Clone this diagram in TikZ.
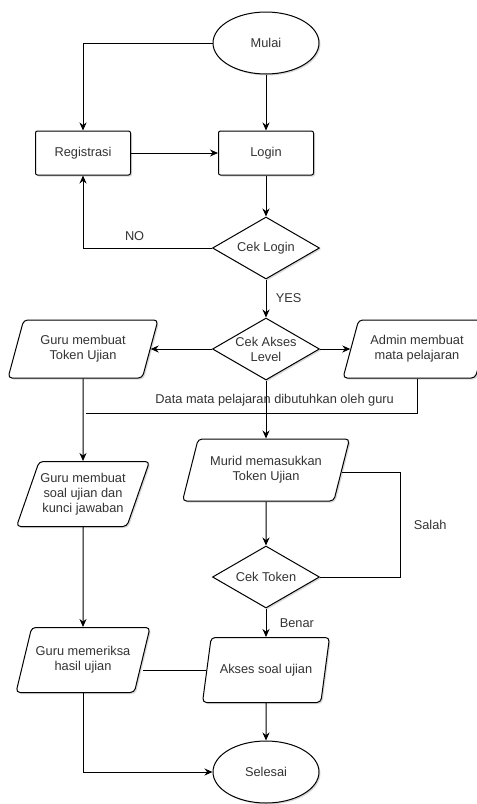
\documentclass[tikz,border=0pt]{standalone}
\usepackage{fontspec}
\setmainfont{Liberation Sans}
\usetikzlibrary{shapes.geometric, arrows.meta, shadows}

\begin{document}
\begin{tikzpicture}[x=1pt, y=-1pt, >={Stealth[length=8pt, width=7pt]}, line width=1pt,
    font=\fontsize{12.8}{15}\selectfont,
    base/.style={draw, fill=white, text=black!80, align=center,
        drop shadow={shadow xshift=1.5pt, shadow yshift=-1.5pt, opacity=0.3}},
    terminal/.style={base, ellipse, minimum width=106, minimum height=62},
    process/.style={base, rectangle, rounded corners=2pt, minimum width=95, minimum height=44},
    decision/.style={base, diamond, aspect=1.7, inner sep=0pt, minimum width=107, minimum height=62},
    io/.style={base, trapezium, trapezium left angle=65, trapezium right angle=115,
        trapezium stretches body, rounded corners=4pt, inner xsep=0pt},
    lbl/.style={text=black!80}]
    \useasboundingbox (0,0) rectangle (477,804);
    % nodes
    \node[terminal] (mulai) at (266,43) {Mulai};
    \node[process] (reg) at (83,153) {Registrasi};
    \node[process] (login) at (266,153) {Login};
    \node[decision] (ceklogin) at (266,248) {Cek Login};
    \node[decision] (cekakses) at (266,349) {Cek Akses\\Level};
    \node[io, minimum width=150, minimum height=58] (gurutoken) at (83,349) {Guru membuat\\Token Ujian};
    \node[io, minimum width=148, minimum height=58] (admin) at (417,349) {Admin membuat\\mata pelajaran};
    \node[io, minimum width=167, minimum height=62] (murid) at (266,470) {Murid memasukkan\\Token Ujian};
    \node[io, minimum width=133, minimum height=65] (gurusoal) at (83,494) {Guru membuat\\soal ujian dan\\kunci jawaban};
    \node[decision] (cektoken) at (266,577) {Cek Token};
    \node[io, minimum width=127, minimum height=65] (akses) at (266,670) {Akses soal ujian};
    \node[io, minimum width=134, minimum height=65] (guruperiksa) at (83,660) {Guru memeriksa\\hasil ujian};
    \node[terminal] (selesai) at (266,772) {Selesai};
    \coordinate (gabung) at (86,413);
    \coordinate (salah) at (400,472);
    % connectors
    \draw[->] (mulai.west) -| (reg.north);
    \draw[->] (mulai) -- (login);
    \draw[->] (reg) -- (login);
    \draw[->] (login) -- (ceklogin);
    \draw[->] (ceklogin.west) -| node[lbl, pos=0.3, above=4pt] {NO} (reg.south);
    \draw[->] (ceklogin) -- node[lbl, right=6pt] {YES} (cekakses);
    \draw[->] (cekakses) -- (gurutoken);
    \draw[->] (cekakses) -- (admin);
    \draw[->] (cekakses) -- (murid);
    \draw (admin.south) |- node[lbl, pos=0.715, above=3pt] {Data mata pelajaran dibutuhkan oleh guru} (gabung);
    \draw[->] (gurutoken) -- (gurusoal);
    \draw[->] (murid) -- (cektoken);
    \draw (murid.east |- salah) -- (salah) |- node[lbl, pos=0.25, right=10pt] {Salah} (cektoken.east);
    \draw[->] (cektoken) -- node[lbl, right=10pt] {Benar} (akses);
    \draw[->] (gurusoal) -- (guruperiksa);
    \draw (akses.west) -- (guruperiksa.east |- akses.west);
    \draw[->] (akses) -- (selesai);
    \draw[->] (guruperiksa.south) |- (selesai.west);
\end{tikzpicture}
\end{document}
